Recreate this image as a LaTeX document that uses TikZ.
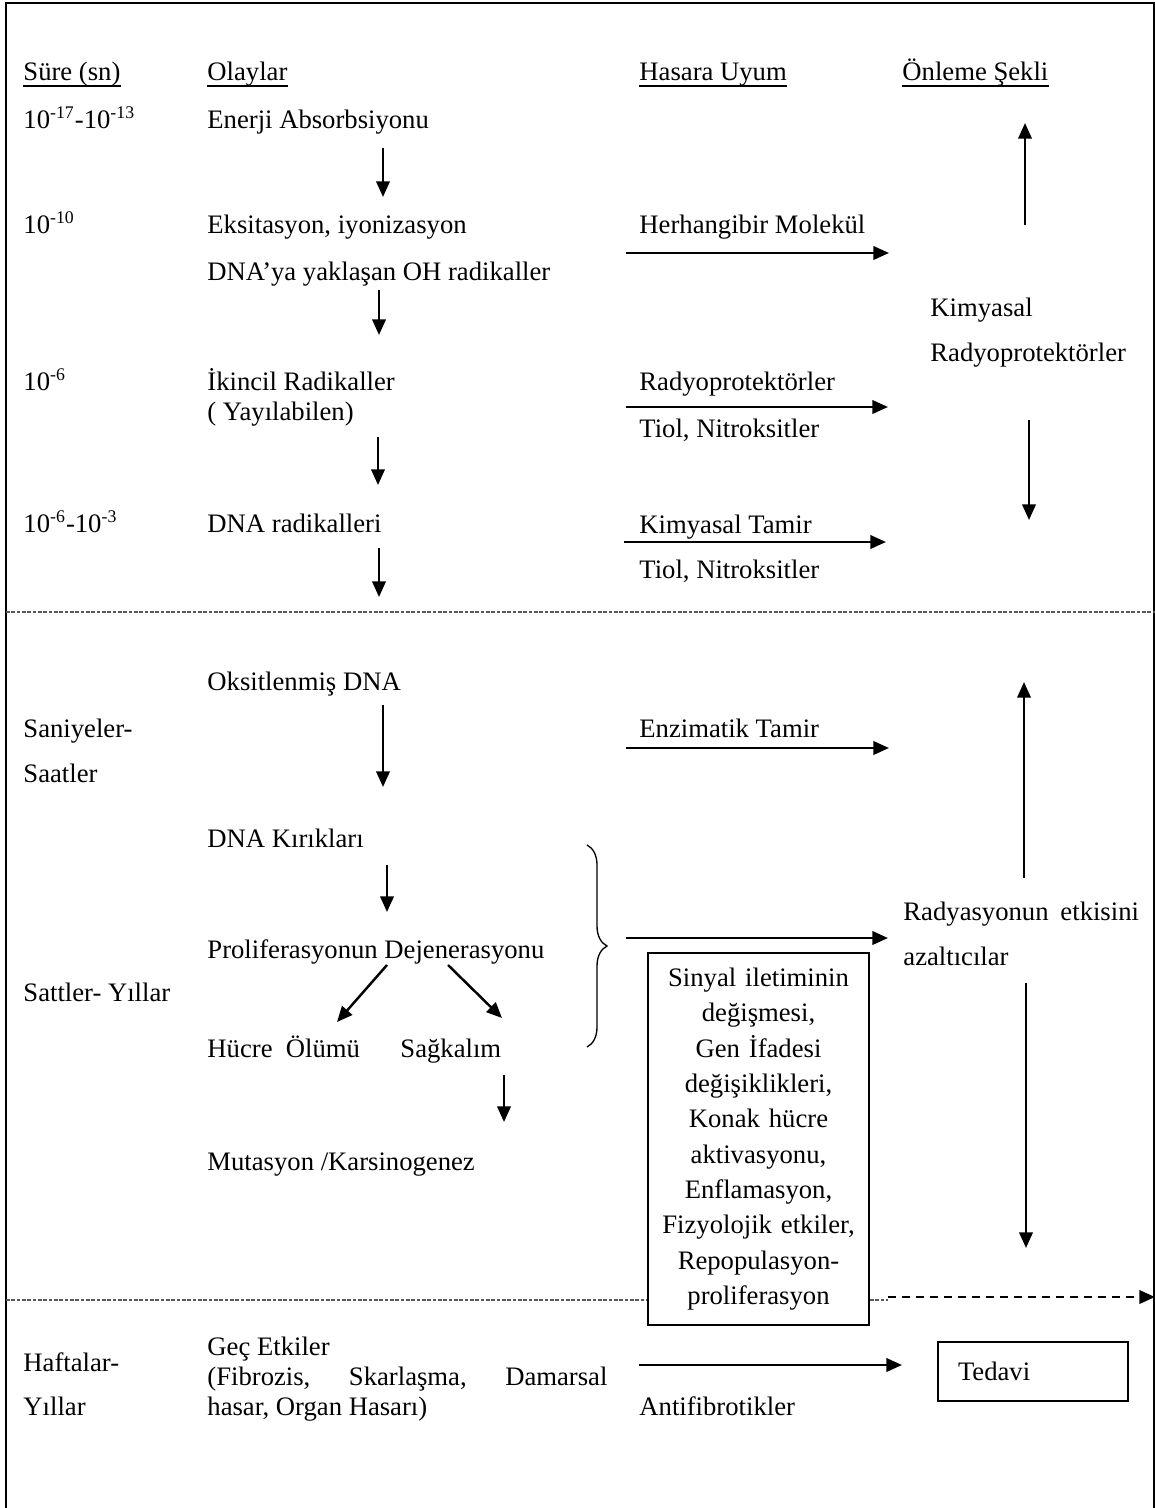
\documentclass[tikz,border=0pt]{standalone}
\usepackage{fontspec}
\setmainfont{Liberation Serif}
\usetikzlibrary{arrows.meta,decorations.pathreplacing}

\begin{document}
\begin{tikzpicture}[
        x=0.45pt, y=-0.45pt,
        font=\fontsize{12}{14}\selectfont,
        txt/.style={anchor=base west, inner sep=0pt},
        arr/.style={-{Triangle[length=7pt,width=6pt]}, line width=1.1pt},
        sep/.style={dash pattern=on 1.6pt off 0.8pt, line width=0.5pt, black!65},
        pageline/.style={line width=1.2pt},
        headline/.style={line width=0.9pt},
        infobox/.style={draw, line width=0.8pt, fill=white, align=center, text width=92pt, minimum width=99.5pt, minimum height=167.4pt, inner sep=0pt, font=\fontsize{12}{15.9}\selectfont},
        treatbox/.style={draw, line width=0.8pt, minimum width=85.5pt, minimum height=26.5pt, text width=67.5pt, inner xsep=9pt, inner ysep=0pt, align=left}
    ]
        \useasboundingbox (0,0) rectangle (1155,1508);

        % Page frame
        \draw[pageline] (6,1508) -- (6,3) -- (1154,3) -- (1154,1508);

        % Column headers
        \node[txt] (sure) at (23,80) {Süre (sn)};
        \node[txt] (olay) at (207,80) {Olaylar};
        \node[txt] (uyum) at (639,80) {Hasara Uyum};
        \node[txt] (onleme) at (902,80) {Önleme Şekli};
        \foreach \h in {sure,olay,uyum,onleme}
            \draw[headline] ([yshift=-2.7pt]\h.base west) -- ([yshift=-2.7pt]\h.base east);

        % Time column
        \node[txt] (t1) at (23,128) {10\textsuperscript{-17}-10\textsuperscript{-13}};
        \node[txt] (t2) at (23,233) {10\textsuperscript{-10}};
        \node[txt] (t3) at (23,390) {10\textsuperscript{-6}};
        \node[txt] (t4) at (23,532) {10\textsuperscript{-6}-10\textsuperscript{-3}};
        \node[txt] (t5a) at (23,737) {Saniyeler-};
        \node[txt] (t5b) at (23,782) {Saatler};
        \node[txt] (t6) at (23,1001) {Sattler- Yıllar};
        \node[txt] (t7a) at (23,1371) {Haftalar-};
        \node[txt] (t7b) at (23,1415) {Yıllar};

        % Events column
        \node[txt] (enerji) at (207,128) {Enerji Absorbsiyonu};
        \node[txt] (eksit) at (207,233) {Eksitasyon, iyonizasyon};
        \node[txt] (dnaoh) at (207,280) {DNA’ya yaklaşan OH radikaller};
        \node[txt] (ikincil) at (207,390) {İkincil Radikaller};
        \node[txt] (yayil) at (207,420) {( Yayılabilen)};
        \node[txt] (dnarad) at (207,532) {DNA radikalleri};
        \node[txt] (oksit) at (207,690) {Oksitlenmiş DNA};
        \node[txt] (kirik) at (207,847) {DNA Kırıkları};
        \node[txt] (prolif) at (207,958) {Proliferasyonun Dejenerasyonu};
        \node[txt] (hucre) at (207,1057) {Hücre\ \ Ölümü};
        \node[txt] (sag) at (400,1057) {Sağkalım};
        \node[txt] (mutas) at (207,1170) {Mutasyon /Karsinogenez};
        \node[txt] (gec) at (207,1355) {Geç Etkiler};
        \node[txt] (fibro) at (207,1385) {\makebox[180pt][s]{(Fibrozis, Skarlaşma, Damarsal}};
        \node[txt] (hasar) at (207,1415) {hasar, Organ Hasarı)};

        % Damage response column
        \node[txt] (herh) at (639,233) {Herhangibir Molekül};
        \node[txt] (radyo) at (639,390) {Radyoprotektörler};
        \node[txt] (tiol1) at (639,437) {Tiol, Nitroksitler};
        \node[txt] (kimtamir) at (639,533) {Kimyasal Tamir};
        \node[txt] (tiol2) at (639,578) {Tiol, Nitroksitler};
        \node[txt] (enzim) at (639,737) {Enzimatik Tamir};
        \node[txt] (antifib) at (639,1415) {Antifibrotikler};

        % Prevention column
        \node[txt] (kimyasal) at (930,316) {Kimyasal};
        \node[txt] (radyopr) at (930,361) {Radyoprotektörler};
        \node[txt] (radyas) at (903,920) {\makebox[106pt][s]{Radyasyonun  etkisini}};
        \node[txt] (azalt) at (903,965) {azaltıcılar};

        % Phase separators
        \draw[sep] (6,612) -- (1155,612);
        \draw[sep] (6,1300) -- (888,1300);

        % Boxes
        \node[infobox] (sinyal) at (758.5,1139) {Sinyal iletiminin\\ değişmesi,\\ Gen İfadesi\\ değişiklikleri,\\ Konak hücre\\ aktivasyonu,\\ Enflamasyon,\\ Fizyolojik etkiler,\\ Repopulasyon-\\ proliferasyon};
        \node[treatbox] (tedavi) at (1033,1371.5) {Tedavi};

        % Arrow end points
        \coordinate (v1s) at (383,148);  \coordinate (v1e) at (383,197);
        \coordinate (v2s) at (379,290);  \coordinate (v2e) at (379,335);
        \coordinate (v3s) at (378,437);  \coordinate (v3e) at (378,485);
        \coordinate (v4s) at (379,548);  \coordinate (v4e) at (379,597);
        \coordinate (v5s) at (383,705);  \coordinate (v5e) at (383,787);
        \coordinate (v6s) at (387,865);  \coordinate (v6e) at (387,912);
        \coordinate (d1s) at (387,965);  \coordinate (d1e) at (337,1022);
        \coordinate (d2s) at (448,965);  \coordinate (d2e) at (502,1018);
        \coordinate (v7s) at (504,1075); \coordinate (v7e) at (504,1122);
        \coordinate (h1s) at (626,253);  \coordinate (h1e) at (889,253);
        \coordinate (h2s) at (626,407);  \coordinate (h2e) at (888,407);
        \coordinate (h3s) at (624,542);  \coordinate (h3e) at (886,542);
        \coordinate (h4s) at (626,748);  \coordinate (h4e) at (889,748);
        \coordinate (h5s) at (626,938);  \coordinate (h5e) at (888,938);
        \coordinate (h6s) at (639,1365); \coordinate (h6e) at (902,1365);
        \coordinate (u1s) at (1025,225); \coordinate (u1e) at (1025,123);
        \coordinate (w1s) at (1029,420); \coordinate (w1e) at (1029,520);
        \coordinate (u2s) at (1024,878); \coordinate (u2e) at (1024,682);
        \coordinate (w2s) at (1026,983); \coordinate (w2e) at (1026,1248);
        \coordinate (dashs) at (888,1297); \coordinate (dashe) at (1155,1297);
        \coordinate (br1) at (587,845);  \coordinate (br2) at (587,1047);

        % Event chain
        \draw[arr] (v1s) -- (v1e);
        \draw[arr] (v2s) -- (v2e);
        \draw[arr] (v3s) -- (v3e);
        \draw[arr] (v4s) -- (v4e);
        \draw[arr] (v5s) -- (v5e);
        \draw[arr] (v6s) -- (v6e);
        \draw[arr] (d1s) -- (d1e);
        \draw[arr] (d2s) -- (d2e);
        \draw[arr] (v7s) -- (v7e);

        % Responses
        \draw[arr] (h1s) -- (h1e);
        \draw[arr] (h2s) -- (h2e);
        \draw[arr] (h3s) -- (h3e);
        \draw[arr] (h4s) -- (h4e);
        \draw[arr] (h5s) -- (h5e);
        \draw[arr] (h6s) -- (h6e);

        % Prevention arrows
        \draw[arr] (u1s) -- (u1e);
        \draw[arr] (w1s) -- (w1e);
        \draw[arr] (u2s) -- (u2e);
        \draw[arr] (w2s) -- (w2e);
        \draw[arr, dash pattern=on 3.6pt off 2.7pt] (dashs) -- (dashe);

        % Brace over late cell events
        \draw[decorate, decoration={brace, amplitude=9pt}, line width=0.6pt] (br1) -- (br2);

    \end{tikzpicture}
\end{document}
